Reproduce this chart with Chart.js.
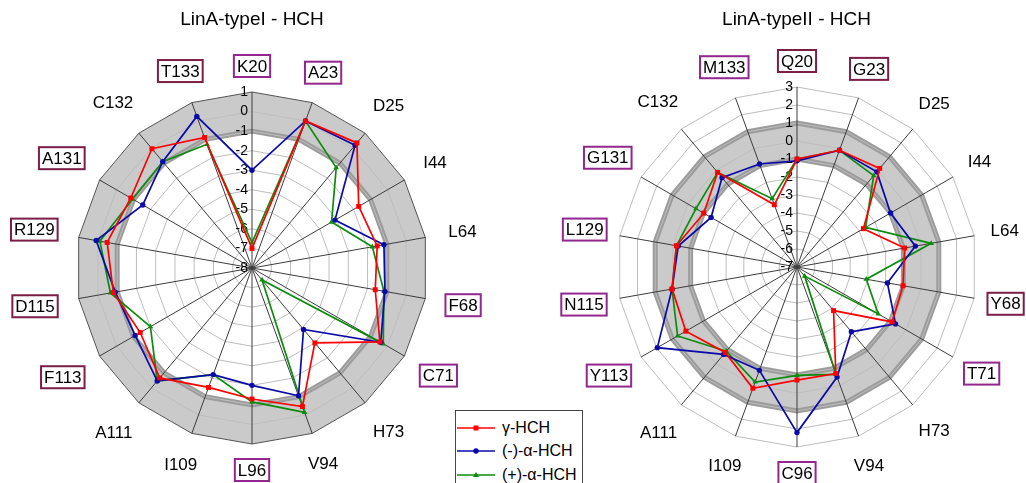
<!DOCTYPE html>
<html><head><meta charset="utf-8">
<script src="https://cdn.jsdelivr.net/npm/chart.js@4.4.1/dist/chart.umd.min.js"></script>
<style>
html,body{margin:0;padding:0;background:#fff;overflow:hidden;width:1026px;height:483px;position:relative;font-family:"Liberation Sans",Arial,sans-serif;}
#c1{position:absolute;left:0;top:0;width:504px;height:483px;}
#c2{position:absolute;left:530px;top:0;width:496px;height:483px;}
#legend{position:absolute;left:455px;top:410px;width:128px;height:90px;border:1px solid #444;background:#fff;box-sizing:border-box;padding-top:5px;z-index:5;}
#legend .row{display:flex;align-items:center;height:23.5px;}
#legend svg{margin-left:1px;margin-right:7px;flex:none;}
#legend span{font-size:16px;color:#000;white-space:nowrap;}
</style></head><body>
<canvas id="c1" width="504" height="483"></canvas>
<canvas id="c2" width="496" height="483"></canvas>
<div id="legend">
  <div class="row"><svg width="38" height="10"><line x1="0" y1="5" x2="38" y2="5" stroke="#ff0000" stroke-width="1.6"/><rect x="16.5" y="2.5" width="5" height="5" fill="#ff0000"/></svg><span>γ-HCH</span></div>
  <div class="row"><svg width="38" height="10"><line x1="0" y1="5" x2="38" y2="5" stroke="#0a0aa8" stroke-width="1.6"/><circle cx="19" cy="5" r="2.7" fill="#0a0aa8"/></svg><span>(-)-α-HCH</span></div>
  <div class="row"><svg width="38" height="10"><line x1="0" y1="5" x2="38" y2="5" stroke="#0c8c0c" stroke-width="1.6"/><polygon points="19,2 22,7 16,7" fill="#0c8c0c"/></svg><span>(+)-α-HCH</span></div>
</div>
<script>
// ---------- DATA ----------
const titleI = 'LinA-typeI - HCH';
const labelsI = ['K20','A23','D25','I44','L64','F68','C71','H73','V94','L96','I109','A111','F113','D115','R129','A131','C132','T133'];
const gammaI      = [-7.0, 0.0, 0.35, -1.7, -1.5, -1.6, -0.45, -3.0, -0.46, -1.3, -1.5, -0.66, -1.4, -0.8, -0.48, -0.84, -0.04, -0.9];
const minusAlphaI = [-3.0, 0.0, 0.2, -3.1, -1.15, -1.1, -0.4, -3.9, -1.05, -2.0, -2.2, -0.46, -1.1, -0.9, 0.09, -1.55, -0.9, 0.25];
const plusAlphaI  = [-6.7, 0.0, -1.3, -3.3, -1.75, -1.15, -0.25, -7.2, -0.14, -1.15, -2.2, -0.46, -2.0, -0.65, -0.1, -0.95, -0.9, -1.27];
const tickMinI = -8, tickMaxI = 1;
const bandI = [-1, 1];

const titleII = 'LinA-typeII - HCH';
const labelsII = ['Q20','G23','D25','I44','L64','Y68','T71','H73','V94','C96','I109','A111','Y113','N115','L129','G131','C132','M133'];
const gammaII      = [-1.0, -0.1, 0.15, -2.74, -0.93, -1.02, -0.9, -3.84, -0.7, -0.72, 0.17, -0.8, 0.13, 0.05, -0.2, -1.02, -0.14, -3.32];
const minusAlphaII = [-1.1, -0.1, -0.1, -1.0, -0.32, -1.9, -0.68, -2.3, -0.49, 2.2, -0.89, -0.66, 1.96, 0.05, -0.3, -1.49, -0.52, -0.91];
const plusAlphaII  = [-1.0, -0.1, -0.37, -2.6, 0.57, -3.09, -1.79, -6.34, -0.65, -0.98, -0.2, -0.89, 0.66, 0.05, -0.2, -0.52, -0.14, -2.96];
const tickMinII = -7, tickMaxII = 3;
const bandII = [-1, 1];

const seriesNames = ['γ-HCH', '(-)-α-HCH', '(+)-α-HCH'];

// ---------- STYLE ----------
const PURPLE = '#93278f', MAROON = '#7b1e46';
const boxesI = {K20:PURPLE, A23:PURPLE, F68:PURPLE, C71:PURPLE, L96:PURPLE,
                F113:MAROON, D115:MAROON, R129:MAROON, A131:MAROON, T133:MAROON};
const boxesII = {Q20:MAROON, G23:MAROON, Y68:MAROON,
                 T71:PURPLE, C96:PURPLE, Y113:PURPLE, N115:PURPLE, L129:PURPLE, G131:PURPLE, M133:PURPLE};
const COLORS = ['#ff0000', '#0a0aa8', '#0c8c0c'];
const STYLES = ['rect', 'circle', 'triangle'];
const RADII = [3.5, 2.7, 3.2];
const FONT = '"Liberation Sans", Arial, sans-serif';
Chart.defaults.font.family = FONT;

const radarDecor = {
  id: 'radarDecor',
  beforeDraw(chart, args, o) {
    const s = chart.scales.r, ctx = chart.ctx, n = chart.data.labels.length;
    const poly = (v) => {
      const d = s.getDistanceFromCenterForValue(v);
      for (let i = 0; i < n; i++) {
        const p = s.getPointPosition(i, d);
        if (i === 0) ctx.moveTo(p.x, p.y); else ctx.lineTo(p.x, p.y);
      }
      ctx.closePath();
    };
    ctx.save();
    ctx.beginPath(); poly(o.band[1]); poly(o.band[0]);
    ctx.fillStyle = '#cacaca'; ctx.fill('evenodd');
    o.thick.forEach(v => {
      ctx.beginPath(); poly(v);
      ctx.lineWidth = 5; ctx.strokeStyle = '#9c9c9c'; ctx.lineJoin = 'miter'; ctx.stroke();
    });
    ctx.restore();
  },
  beforeDatasetsDraw(chart, args, o) {
    const s = chart.scales.r, ctx = chart.ctx;
    ctx.save();
    ctx.font = '14px ' + FONT; ctx.textAlign = 'right'; ctx.textBaseline = 'middle'; ctx.fillStyle = '#000';
    s.ticks.forEach(t => {
      const d = s.getDistanceFromCenterForValue(t.value);
      ctx.fillText(String(t.value), s.xCenter - 4, s.yCenter - d);
    });
    ctx.restore();
  },
  afterDraw(chart, args, o) {
    const s = chart.scales.r, ctx = chart.ctx;
    ctx.save();
    ctx.font = '17px ' + FONT; ctx.textAlign = 'center'; ctx.textBaseline = 'middle';
    chart.data.labels.forEach((lab, i) => {
      const w = ctx.measureText(lab).width;
      const a = s.getIndexAngle(i);
      const d = s.drawingArea + o.pad + o.kx * (w / 2) * Math.abs(Math.sin(a)) + o.vy * Math.abs(Math.cos(a));
      const p = s.getPointPosition(i, d);
      if (o.boxes[lab]) {
        ctx.fillStyle = '#fff'; ctx.fillRect(p.x - w / 2 - 3, p.y - 11, w + 6, 22);
        ctx.strokeStyle = o.boxes[lab]; ctx.lineWidth = 2;
        ctx.strokeRect(p.x - w / 2 - 3, p.y - 11, w + 6, 22);
      }
      ctx.fillStyle = '#000';
      ctx.fillText(lab, p.x, p.y + 1);
    });
    ctx.restore();
  }
};

function makeChart(id, title, labels, series, tmin, tmax, geo, band, thick, boxes, outerColor, padLeft) {
  return new Chart(document.getElementById(id), {
    type: 'radar',
    data: {
      labels: labels,
      datasets: series.map((vals, k) => ({
        label: seriesNames[k], data: vals,
        borderColor: COLORS[k], backgroundColor: COLORS[k], borderWidth: 1.7,
        pointStyle: STYLES[k], pointRadius: RADII[k], pointBorderWidth: 0,
        pointBackgroundColor: COLORS[k], fill: false, tension: 0, clip: false
      }))
    },
    options: {
      responsive: false, animation: false, devicePixelRatio: 1,
      layout: { padding: { left: padLeft } },
      plugins: {
        legend: { display: false }, tooltip: { enabled: false },
        title: { display: true, text: title, color: '#000', font: { size: 19, weight: 'normal' }, padding: { top: 8, bottom: 4 } },
        radarDecor: { band: band, thick: thick, boxes: boxes, pad: geo.pad, kx: geo.kx, vy: geo.vy }
      },
      scales: {
        r: {
          min: tmin, max: tmax,
          ticks: { display: false, stepSize: 1 },
          pointLabels: { display: false },
          grid: { circular: false, lineWidth: 1, color: (c) => (c.tick && c.tick.value === tmax) ? outerColor : '#bdbdbd' },
          angleLines: { display: true, color: '#3c3c3c', lineWidth: 1 },
          afterFit: (sc) => { sc.xCenter = geo.cx; sc.yCenter = geo.cy; sc.drawingArea = geo.r; }
        }
      }
    },
    plugins: [radarDecor]
  });
}

makeChart('c1', titleI, labelsI, [gammaI, minusAlphaI, plusAlphaI], tickMinI, tickMaxI,
  { cx: 252, cy: 268, r: 176, pad: 20, kx: 1.2, vy: 6 }, bandI, [bandI[0]], boxesI, '#555555', 0);
makeChart('c2', titleII, labelsII, [gammaII, minusAlphaII, plusAlphaII], tickMinII, tickMaxII,
  { cx: 267, cy: 267, r: 180, pad: 15, kx: 1.0, vy: 11 }, bandII, [bandII[0], bandII[1]], boxesII, '#bdbdbd', 37);
</script>
</body></html>
